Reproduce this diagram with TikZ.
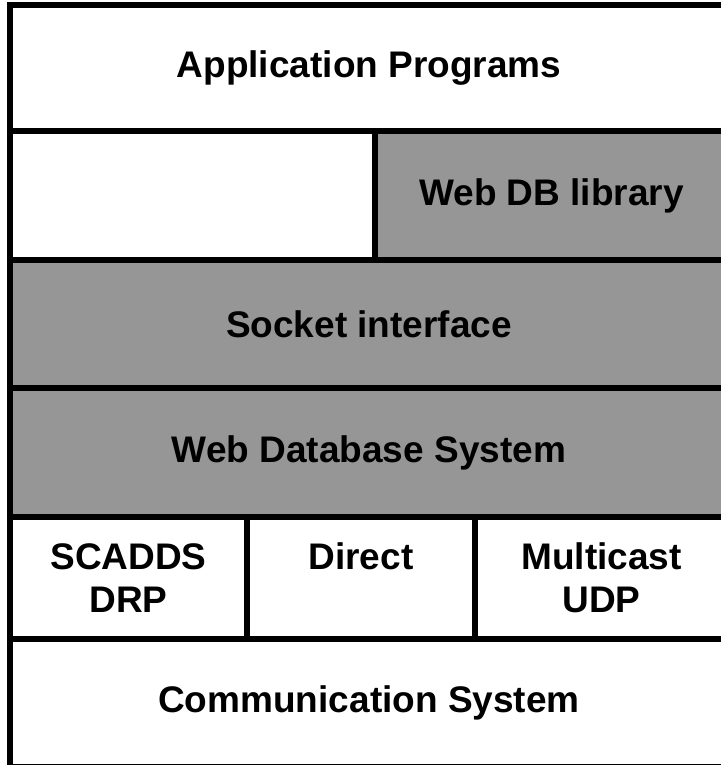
\documentclass[tikz,border=0pt]{standalone}
\usepackage{fontspec}
\setmainfont{Liberation Sans}
\usetikzlibrary{positioning}
\definecolor{layergray}{RGB}{150,150,150}
\tikzset{
  layer/.style={draw=black, line width=3.25bp, fill=white, rectangle, outer sep=0pt, inner sep=0pt,
    anchor=north west, align=center, font=\fontsize{18.5bp}{21.5bp}\selectfont\bfseries},
  shaded/.style={layer, fill=layergray}
}
\begin{document}
\begin{tikzpicture}[x=1bp, y=1bp]
  \useasboundingbox (0,0) rectangle (360.5,382.5);
  % layers, top to bottom
  \node[layer, minimum width=359bp, minimum height=63bp] (app) at (5,380) {Application Programs};
  \node[layer, minimum width=182.5bp, minimum height=64.5bp] (blank) at (app.south west) {};
  \node[shaded, minimum width=176.5bp, minimum height=64.5bp] (dblib) at (blank.north east) {Web DB library};
  \node[shaded, minimum width=359bp, minimum height=64bp] (socket) at (blank.south west) {Socket interface};
  \node[shaded, minimum width=359bp, minimum height=64.5bp] (webdb) at (socket.south west) {Web Database System};
  % transport protocols
  \node[layer, minimum width=118.5bp, minimum height=61bp] (scadds) at (webdb.south west) {SCADDS\\DRP};
  \node[layer, minimum width=114bp, minimum height=61bp] (direct) at (scadds.north east) {Direct\\\phantom{DRP}};
  \node[layer, minimum width=126.5bp, minimum height=61bp] (mcast) at (direct.north east) {Multicast\\UDP};
  \node[layer, minimum width=359bp, minimum height=64bp] (comm) at (scadds.south west) {Communication System};
\end{tikzpicture}
\end{document}
